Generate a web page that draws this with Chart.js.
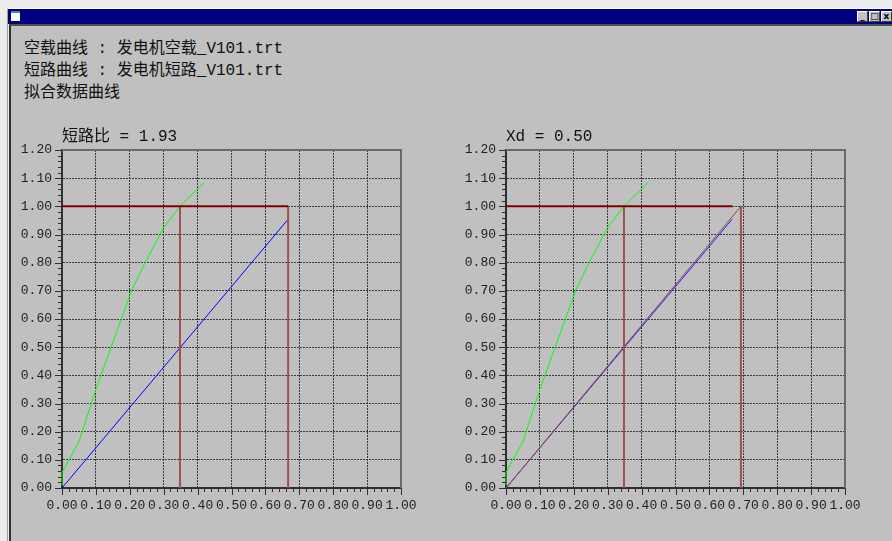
<!DOCTYPE html>
<html>
<head>
<meta charset="utf-8">
<script src="https://cdn.jsdelivr.net/npm/chart.js@4"></script>
<style>
  body { margin: 0; width: 892px; height: 541px; background: #ececec; position: relative; overflow: hidden; }
  .frame { position: absolute; left: 7px; top: 8px; right: 0; bottom: 0; border-left: 1px solid #a0a0a0; border-top: 1px solid #ffffff; }
  .titlebar { position: absolute; left: 8px; top: 9px; right: 0; height: 15px; background: #000080; }
  .ico { position: absolute; left: 3px; top: 2px; width: 9px; height: 10px; background: #ffffff; border-top: 2px solid #3c8cb4; box-sizing: border-box; }
  .btn { position: absolute; top: 2px; width: 11px; height: 11px; background: #c0c0c0; border: 1px solid; border-color: #ffffff #404040 #404040 #ffffff; box-sizing: border-box; font: bold 9px "DejaVu Sans", sans-serif; color: #000; text-align: center; line-height: 9px; }
  .client { position: absolute; left: 9px; top: 24px; right: 0; bottom: 0; background: #c0c0c0; border-left: 2px solid #303030; border-top: 2px solid #505050; }
  .head { position: absolute; left: 24px; font: 16px "Liberation Mono", "Noto Sans CJK SC", monospace; color: #111; white-space: pre; line-height: 22px; }
  canvas { position: absolute; }
</style>
</head>
<body>
<div class="frame"></div>
<div class="titlebar">
  <div class="ico"></div>
  <div class="btn" style="right:24px">_</div>
  <div class="btn" style="right:12px">□</div>
  <div class="btn" style="right:0px">x</div>
</div>
<div class="client"></div>
<div class="head" style="top:38px">空载曲线 : 发电机空载_V101.trt</div>
<div class="head" style="top:60px">短路曲线 : 发电机短路_V101.trt</div>
<div class="head" style="top:82px">拟合数据曲线</div>
<canvas id="chartLeft" width="430" height="400" style="left:0px;top:120px"></canvas>
<canvas id="chartRight" width="430" height="400" style="left:444px;top:120px"></canvas>
<script>
// 空载曲线 (open circuit)
const ocX = [0, 0, 0.05, 0.10, 0.163, 0.205, 0.245, 0.30, 0.348, 0.42];
const ocY = [0.01, 0.055, 0.165, 0.35, 0.56, 0.70, 0.80, 0.925, 1.0, 1.085];
// 短路曲线 (short circuit)
const scX = [0, 0.667];
const scY = [0, 0.954];
// 拟合数据曲线 (fitted line, right chart)
const fitX = [0, 0.693];
const fitY = [0, 1.0];
// guide lines
const levelY = [1, 1];
const vertY = [0, 1];
const leftLevelX = [0, 0.667];
const rightLevelX = [0, 0.668];
const ratioX = [0.348, 0.348];
const leftEndX = [0.667, 0.667];
const rightEndX = [0.693, 0.693];
// titles and ticks
const leftTitle = '短路比 = 1.93';
const rightTitle = 'Xd = 0.50';
const xMax = 1.0, yMax = 1.2, step = 0.1;

function pts(xs, ys) {
    return xs.map((x, i) => ({ x: x, y: ys[i] }));
}

function line(xs, ys, color, width) {
    return {
        data: pts(xs, ys),
        showLine: true,
        borderColor: color,
        borderWidth: width,
        pointRadius: 0,
        fill: false,
        tension: 0,
        clip: false,
    };
}

// minor ticks, frame and title
const axisDeco = {
    id: 'axisDeco',
    afterDraw(chart, args, opts) {
        const { ctx, chartArea: a, scales: { x, y } } = chart;
        ctx.save();
        ctx.strokeStyle = '#303030';
        ctx.lineWidth = 1;
        ctx.beginPath();
        for (let i = 0; i <= 50; i++) {
            const px = Math.round(x.getPixelForValue(i / 50)) + 0.5;
            const len = i % 5 === 0 ? 7 : 4;
            ctx.moveTo(px, a.bottom);
            ctx.lineTo(px, a.bottom + len);
        }
        for (let i = 0; i <= 60; i++) {
            const py = Math.round(y.getPixelForValue(i / 50)) + 0.5;
            const len = i % 5 === 0 ? 7 : 4;
            ctx.moveTo(a.left - len, py);
            ctx.lineTo(a.left, py);
        }
        ctx.stroke();
        ctx.strokeStyle = '#6a6a6a';
        ctx.lineWidth = 2;
        ctx.beginPath();
        ctx.moveTo(a.left, a.top);
        ctx.lineTo(a.right, a.top);
        ctx.lineTo(a.right, a.bottom);
        ctx.stroke();
        ctx.font = '16px "Liberation Mono", "Noto Sans CJK SC", monospace';
        ctx.fillStyle = '#111';
        ctx.textBaseline = 'middle';
        ctx.fillText(opts.text, a.left, a.top - 13);
        ctx.restore();
    }
};

function makeChart(id, datasets, title) {
    const tickFont = { family: '"Liberation Mono", monospace', size: 13 };
    new Chart(document.getElementById(id), {
        type: 'scatter',
        data: { datasets: datasets },
        options: {
            responsive: false,
            animation: false,
            layout: { padding: { left: 0, top: 30, right: 29, bottom: 0 } },
            plugins: {
                legend: { display: false },
                tooltip: { enabled: false },
                axisDeco: { text: title },
            },
            scales: {
                x: {
                    type: 'linear', min: 0, max: xMax,
                    ticks: { stepSize: step, autoSkip: false, maxRotation: 0, padding: 10, color: '#222', font: tickFont,
                        callback: (v) => v.toFixed(2) },
                    grid: { color: '#3a3a3a', drawTicks: false },
                    border: { dash: [2, 1], color: '#303030', width: 2 },
                    afterFit(s) { s.height = 32; s.paddingLeft = 0; s.paddingRight = 0; },
                },
                y: {
                    type: 'linear', min: 0, max: yMax,
                    ticks: { stepSize: step, padding: 10, color: '#222', font: tickFont,
                        callback: (v) => v.toFixed(2) },
                    grid: { color: '#3a3a3a', drawTicks: false },
                    border: { dash: [2, 1], color: '#303030', width: 2 },
                    afterFit(s) { s.width = 62; s.paddingTop = 0; s.paddingBottom = 0; },
                },
            },
        },
        plugins: [axisDeco],
    });
}

makeChart('chartLeft', [
    line(leftLevelX, levelY, '#800000', 2),
    line(ratioX, vertY, '#a05050', 2),
    line(leftEndX, vertY, '#a05050', 2),
    line(scX, scY, '#0000ff', 1),
    line(ocX, ocY, '#00ff00', 1),
], leftTitle);

makeChart('chartRight', [
    line(rightLevelX, levelY, '#800000', 2),
    line(ratioX, vertY, '#a05050', 2),
    line(rightEndX, vertY, '#a05050', 2),
    line(fitX, fitY, '#a04040', 1),
    line(scX, scY, '#2020ff', 1),
    line(ocX, ocY, '#00ff00', 1),
], rightTitle);
</script>
</body>
</html>
